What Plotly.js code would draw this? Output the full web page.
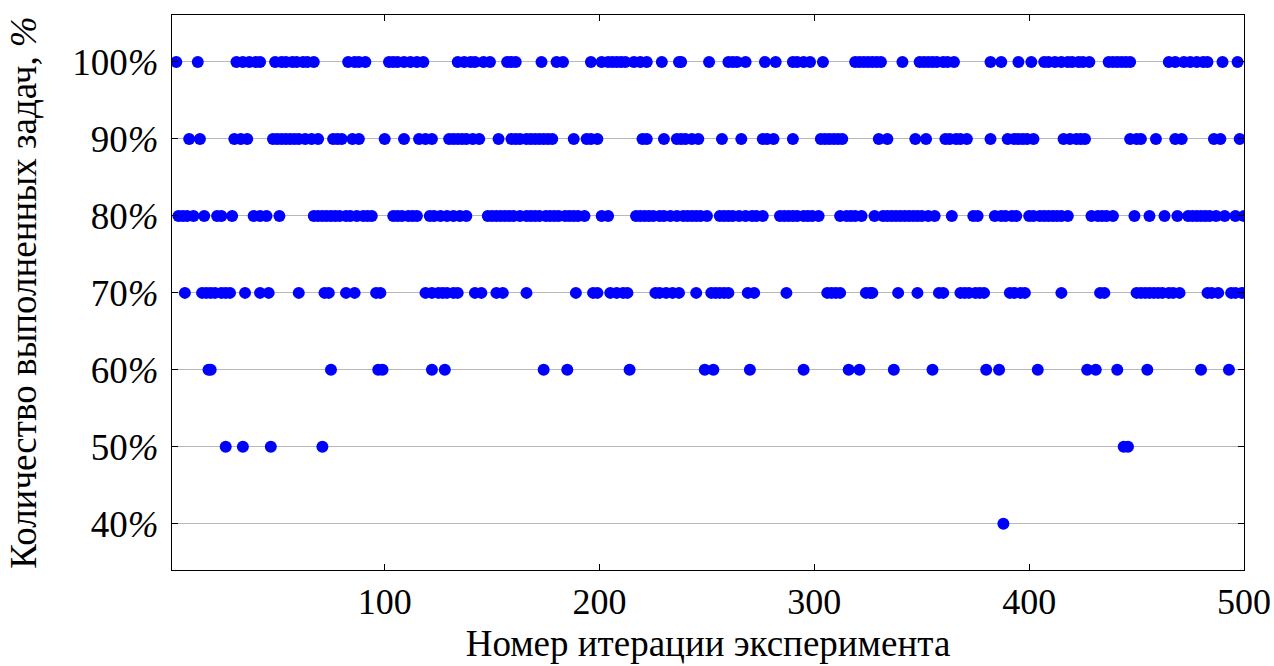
<!DOCTYPE html>
<html>
<head>
<meta charset="utf-8">
<script src="https://cdn.plot.ly/plotly-3.0.1.min.js"></script>
<style>html,body{margin:0;padding:0;background:#fff;}#chart{width:1274px;height:666px;}</style>
</head>
<body>
<div id="chart"></div>
<script>
// Iteration numbers (x) at which each completion level (%) was observed
const iter100 = [3, 13, 31, 34, 37, 40, 42, 49, 52, 54, 57, 59, 62, 64, 67, 83, 86, 88, 91, 102, 104, 106, 109, 112, 115, 118, 134, 137, 140, 142, 146, 149, 157, 159, 161, 173, 180, 183, 196, 201, 204, 206, 208, 210, 212, 216, 219, 222, 229, 237, 238, 251, 260, 262, 264, 268, 277, 282, 290, 292, 295, 298, 304, 319, 321, 323, 325, 327, 329, 331, 341, 349, 351, 353, 355, 357, 360, 362, 365, 382, 387, 395, 401, 407, 409, 412, 415, 418, 420, 423, 425, 428, 437, 439, 441, 443, 445, 447, 465, 468, 472, 475, 478, 481, 483, 490, 497];
const iter90 = [9, 14, 30, 33, 36, 48, 50, 52, 54, 56, 58, 60, 63, 66, 69, 76, 78, 80, 85, 88, 100, 109, 116, 119, 122, 130, 132, 134, 136, 138, 141, 144, 153, 159, 161, 163, 166, 168, 170, 172, 174, 176, 178, 188, 194, 196, 199, 220, 222, 230, 236, 238, 240, 243, 246, 257, 266, 276, 278, 281, 290, 303, 305, 307, 309, 311, 313, 330, 334, 347, 352, 361, 363, 366, 368, 371, 382, 390, 393, 395, 397, 399, 402, 416, 419, 422, 424, 426, 447, 450, 452, 459, 468, 471, 486, 489, 498];
const iter80 = [4, 6, 8, 11, 16, 22, 24, 29, 39, 42, 45, 51, 67, 69, 71, 73, 75, 77, 79, 82, 84, 87, 90, 92, 94, 104, 106, 108, 111, 113, 115, 121, 123, 126, 129, 132, 135, 138, 148, 150, 152, 154, 156, 158, 160, 163, 166, 168, 170, 172, 175, 177, 179, 181, 184, 186, 188, 190, 193, 201, 204, 217, 219, 221, 223, 225, 228, 230, 233, 236, 239, 241, 243, 245, 247, 250, 256, 258, 260, 262, 265, 268, 271, 273, 276, 284, 286, 288, 290, 292, 295, 297, 299, 302, 312, 315, 317, 319, 322, 328, 332, 334, 336, 338, 340, 342, 344, 346, 348, 350, 353, 356, 364, 374, 376, 384, 387, 389, 392, 394, 400, 402, 405, 407, 409, 411, 413, 415, 418, 429, 432, 434, 436, 439, 449, 456, 463, 469, 474, 476, 478, 480, 482, 484, 487, 491, 496, 500];
const iter70 = [7, 15, 17, 19, 21, 24, 26, 28, 35, 42, 46, 60, 72, 74, 82, 86, 96, 98, 119, 122, 125, 127, 129, 132, 134, 142, 145, 152, 155, 166, 189, 197, 199, 205, 208, 211, 213, 226, 228, 231, 234, 237, 245, 252, 254, 256, 258, 260, 269, 272, 287, 306, 308, 310, 312, 324, 326, 327, 339, 348, 358, 360, 368, 370, 372, 375, 377, 379, 391, 393, 396, 398, 415, 433, 435, 450, 452, 454, 456, 458, 460, 462, 465, 467, 470, 483, 485, 488, 494, 496, 499];
const iter60 = [18, 19, 75, 97, 99, 122, 128, 174, 185, 214, 249, 253, 270, 295, 316, 321, 337, 355, 380, 386, 404, 427, 431, 441, 455, 480, 493];
const iter50 = [26, 34, 47, 71, 444, 446];
const iter40 = [388];

const levels = [100, 90, 80, 70, 60, 50, 40];
const iterLists = [iter100, iter90, iter80, iter70, iter60, iter50, iter40];

const xTickVals = [100, 200, 300, 400, 500];
const yTickVals = [40, 50, 60, 70, 80, 90, 100];
const yTickText = ['40<i>%</i>', '50<i>%</i>', '60<i>%</i>', '70<i>%</i>', '80<i>%</i>', '90<i>%</i>', '100<i>%</i>'];

const xs = [], ys = [];
iterLists.forEach((lst, k) => { lst.forEach(v => { xs.push(v); ys.push(levels[k]); }); });

const trace = {
  x: xs, y: ys, type: 'scatter', mode: 'markers',
  marker: {color: '#0000ff', size: 12, line: {width: 0}},
  hoverinfo: 'x+y', showlegend: false
};

const fontFam = '"Liberation Serif", "DejaVu Serif", serif';
const layout = {
  width: 1274, height: 666,
  margin: {l: 172, r: 30, t: 15, b: 96},
  paper_bgcolor: '#ffffff', plot_bgcolor: '#ffffff',
  font: {family: fontFam, color: '#000000', size: 36},
  xaxis: {
    range: [1, 500], tickvals: xTickVals, ticktext: xTickVals.map(String),
    showgrid: false, zeroline: false,
    showline: true, mirror: 'ticks', linecolor: '#000', linewidth: 1,
    ticks: 'inside', ticklen: 6, tickcolor: '#000',
    tickfont: {family: fontFam, size: 36},
    title: {text: 'Номер итерации эксперимента', font: {family: fontFam, size: 37}, standoff: 8}
  },
  yaxis: {
    range: [34, 106.1], tickvals: yTickVals, ticktext: yTickText,
    showgrid: true, gridcolor: '#b8b8b8', gridwidth: 1, zeroline: false,
    showline: true, mirror: 'ticks', linecolor: '#000', linewidth: 1,
    ticks: 'inside', ticklen: 6, tickcolor: '#000', ticklabelstandoff: 5,
    tickfont: {family: fontFam, size: 37},
    title: {text: 'Количество выполненных задач, <i>%</i>', font: {family: fontFam, size: 37}, standoff: 24}
  }
};

Plotly.newPlot('chart', [trace], layout, {displayModeBar: false, staticPlot: true});
</script>
</body>
</html>
